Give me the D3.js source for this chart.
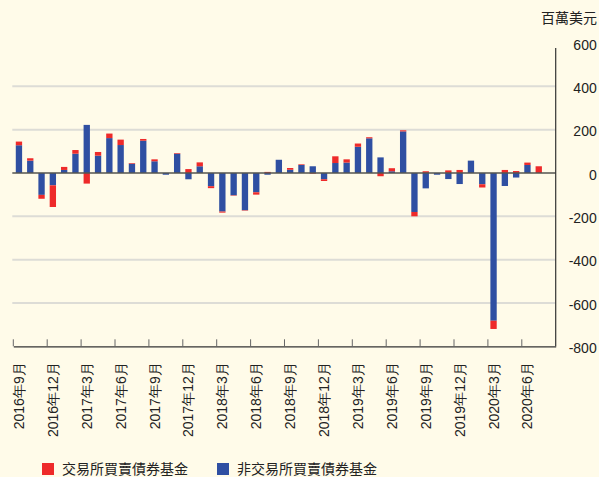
<!DOCTYPE html>
<html lang="zh-Hant">
<head>
<meta charset="UTF-8">
<title>債券基金資金流</title>
<script src="https://cdn.jsdelivr.net/npm/d3@7"></script>
<style>
  body { margin: 0; background: #fffbe9; }
  svg { display: block; font-family: "Liberation Sans", "Noto Sans CJK TC", sans-serif; }
</style>
</head>
<body>
<svg width="599" height="477"></svg>
<script>
    // monthly flows, million USD, Sep 2016 .. Aug 2020
    const startMonth = new Date(2016, 8, 1)
    const endMonth = new Date(2020, 8, 1)
    const nonEtf = [128, 57, -101, -57, 14, 89, 222, 80, 161, 129, 43, 149,
        54, -8, 89, -29, 31, -61, -178, -103, -172, -89, -8, 61,
        15, 37, 31, -29, 46, 48, 121, 160, 72, 8, 192, -180,
        -71, -8, -28, -51, 57, -52, -682, -60, -21, 37, 0, 0]
    const etf = [17, 11, -18, -100, 14, 17, -49, 17, 21, 25, 3, 8,
        9, 0, 3, 18, 18, -9, -5, -2, -2, -11, 5, 0,
        8, 3, -3, -8, 31, 15, 15, 5, -15, 14, 5, -20,
        8, 0, 12, 14, 0, -15, -38, 14, 9, 11, 31, 0]
    const yTicks = [-800, -600, -400, -200, 0, 200, 400, 600]
    const seriesNames = ["非交易所買賣債券基金", "交易所買賣債券基金"]
    const colors = ["#2f4fa2", "#ee2a2a"]
    const unitLabel = "百萬美元"

    const months = d3.timeMonth.range(startMonth, endMonth)
    const monthLabel = d => `${d.getFullYear()}年${d.getMonth() + 1}月`
    const rows = months.map((m, i) => ({month: m, nonEtf: nonEtf[i], etf: etf[i]}))

    const svg = d3.select("svg")
    const plotLeft = 13.3, plotRight = 555.7, plotTop = 43, plotBottom = 346.3

    const x = d3.scaleBand()
        .domain(months)
        .range([plotLeft, plotRight])
        .paddingInner(0.44)
        .paddingOuter(0.22)
    const step = x.step()

    const y = d3.scaleLinear().domain([-800, 600]).range([plotBottom, plotTop])

    // grid
    svg.append("g")
        .selectAll("line")
        .data(yTicks.filter(d => d !== 0 && d !== -800 && d !== 600))
        .join("line")
        .attr("x1", plotLeft - 1).attr("x2", plotRight)
        .attr("y1", d => y(d)).attr("y2", d => y(d))
        .attr("stroke", "#dddcd6").attr("stroke-width", 2)

    const stack = d3.stack()
        .keys(["nonEtf", "etf"])
        .offset(d3.stackOffsetDiverging)
    const layers = stack(rows)

    svg.append("g")
        .selectAll("g")
        .data(layers)
        .join("g")
        .attr("fill", (d, i) => colors[i])
        .selectAll("rect")
        .data(d => d)
        .join("rect")
        .attr("x", d => x(d.data.month))
        .attr("width", x.bandwidth())
        .attr("y", d => y(Math.max(d[0], d[1])))
        .attr("height", d => Math.abs(y(d[0]) - y(d[1])))

    // zero line
    svg.append("line")
        .attr("x1", plotLeft - 1).attr("x2", plotRight)
        .attr("y1", y(0)).attr("y2", y(0))
        .attr("stroke", "#55554f").attr("stroke-width", 1.5)

    // bottom axis, ticks every quarter at band edges
    const quarterly = months.filter((m, i) => i % 3 === 0)
    const xAxis = svg.append("g")
        .attr("transform", `translate(0,${plotBottom})`)
        .call(d3.axisBottom(x).tickValues(quarterly).tickFormat(monthLabel).tickSizeOuter(0))
    xAxis.select(".domain").attr("stroke", "#333").attr("stroke-width", 1.2)
    xAxis.selectAll(".tick line")
        .attr("x1", -step / 2).attr("x2", -step / 2)
        .attr("y1", 0).attr("y2", -7)
        .attr("stroke", "#666")
    xAxis.selectAll(".tick text")
        .attr("transform", "rotate(-90)")
        .attr("x", -16).attr("y", 0).attr("dy", "0.36em")
        .attr("text-anchor", "end")
        .attr("font-size", 14)
        .attr("fill", "#222")

    // right axis
    svg.append("line")
        .attr("x1", plotRight).attr("x2", plotRight)
        .attr("y1", plotTop + 5).attr("y2", plotBottom)
        .attr("stroke", "#333").attr("stroke-width", 1.2)
    const yAxis = svg.append("g")
        .attr("transform", `translate(${plotRight},0)`)
        .call(d3.axisRight(y).tickValues(yTicks).tickSize(0).tickFormat(d => String(d)))
    yAxis.select(".domain").remove()
    yAxis.selectAll(".tick text")
        .attr("x", 41).attr("dy", "0.45em")
        .attr("text-anchor", "end")
        .attr("font-size", 14)
        .attr("fill", "#222")

    svg.append("text")
        .attr("x", 597).attr("y", 23)
        .attr("text-anchor", "end")
        .attr("font-size", 14)
        .attr("fill", "#222")
        .text(unitLabel)

    // legend
    const legendItems = [
        {name: seriesNames[1], color: colors[1], x: 42},
        {name: seriesNames[0], color: colors[0], x: 217}
    ]
    const legend = svg.append("g")
        .selectAll("g")
        .data(legendItems)
        .join("g")
        .attr("transform", d => `translate(${d.x},463)`)
    legend.append("rect")
        .attr("width", 12).attr("height", 12)
        .attr("fill", d => d.color)
    legend.append("text")
        .attr("x", 20).attr("y", 11)
        .attr("font-size", 14)
        .attr("fill", "#222")
        .text(d => d.name)
</script>
</body>
</html>
